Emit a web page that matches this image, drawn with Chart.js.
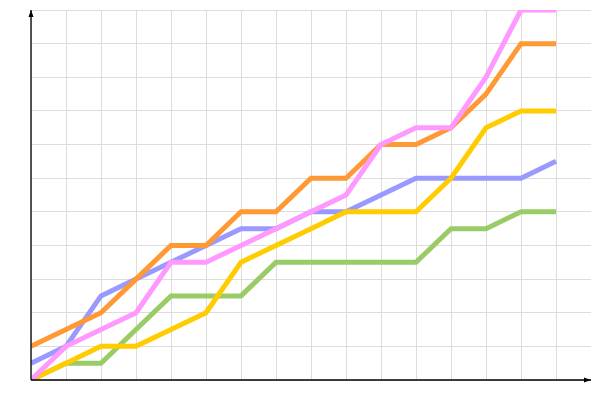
<!DOCTYPE html>
<html>
<head>
<meta charset="utf-8">
<script src="https://cdn.jsdelivr.net/npm/chart.js@4/dist/chart.umd.min.js"></script>
<style>
html,body{margin:0;padding:0;background:#fff;}
#wrap{width:600px;height:400px;}
</style>
</head>
<body>
<div id="wrap"><canvas id="c" width="600" height="400"></canvas></div>
<script>
const categories = [0,1,2,3,4,5,6,7,8,9,10,11,12,13,14,15];
const orangeValues = [1,1.5,2,3,4,4,5,5,6,6,7,7,7.5,8.5,10,10];
const pinkValues   = [0,1,1.5,2,3.5,3.5,4,4.5,5,5.5,7,7.5,7.5,9,11,11];
const blueValues   = [0.5,1,2.5,3,3.5,4,4.5,4.5,5,5,5.5,6,6,6,6,6.5];
const yellowValues = [0,0.5,1,1,1.5,2,3.5,4,4.5,5,5,5,6,7.5,8,8];
const greenValues  = [0,0.5,0.5,1.5,2.5,2.5,2.5,3.5,3.5,3.5,3.5,3.5,4.5,4.5,5,5];
const xMax = 16;
const yMax = 11;

function pts(vals){ return categories.map((c,i)=>({x:c,y:vals[i]})); }
function ds(vals,color){
  return {data:pts(vals),borderColor:color,backgroundColor:color,borderWidth:5,pointRadius:0,fill:false,tension:0,borderJoinStyle:'miter',borderCapStyle:'butt'};
}

const axisArrows = {
  id:'axisArrows',
  afterDraw(chart){
    const ctx = chart.ctx, a = chart.chartArea;
    ctx.save();
    ctx.strokeStyle = '#000';
    ctx.fillStyle = '#000';
    ctx.lineWidth = 1.3;
    ctx.beginPath();
    ctx.moveTo(a.left, a.bottom); ctx.lineTo(a.right, a.bottom);
    ctx.moveTo(a.left, a.bottom); ctx.lineTo(a.left, a.top);
    ctx.stroke();
    ctx.beginPath();
    ctx.moveTo(a.right, a.bottom);
    ctx.lineTo(a.right-7, a.bottom-2.5);
    ctx.lineTo(a.right-7, a.bottom+2.5);
    ctx.closePath(); ctx.fill();
    ctx.beginPath();
    ctx.moveTo(a.left, a.top);
    ctx.lineTo(a.left-2.5, a.top+7);
    ctx.lineTo(a.left+2.5, a.top+7);
    ctx.closePath(); ctx.fill();
    ctx.restore();
  }
};

new Chart(document.getElementById('c'), {
  type:'line',
  data:{datasets:[
    ds(pinkValues,'#ff99ff'),
    ds(orangeValues,'#ff9933'),
    ds(yellowValues,'#ffcc00'),
    ds(blueValues,'#9999ff'),
    ds(greenValues,'#99cc66')
  ]},
  options:{
    responsive:false,
    animation:false,
    layout:{padding:{left:31,right:9,top:10,bottom:20}},
    plugins:{legend:{display:false},tooltip:{enabled:false}},
    scales:{
      x:{type:'linear',min:0,max:xMax,
        ticks:{display:false,stepSize:1},
        border:{display:false},
        grid:{drawTicks:false,lineWidth:1,color:(c)=> (c.tick && c.tick.value>=xMax) ? 'rgba(0,0,0,0)' : '#dddddd'}},
      y:{type:'linear',min:0,max:yMax,
        ticks:{display:false,stepSize:1},
        border:{display:false},
        grid:{drawTicks:false,lineWidth:1,color:'#dddddd'}}
    }
  },
  plugins:[axisArrows]
});
</script>
</body>
</html>
